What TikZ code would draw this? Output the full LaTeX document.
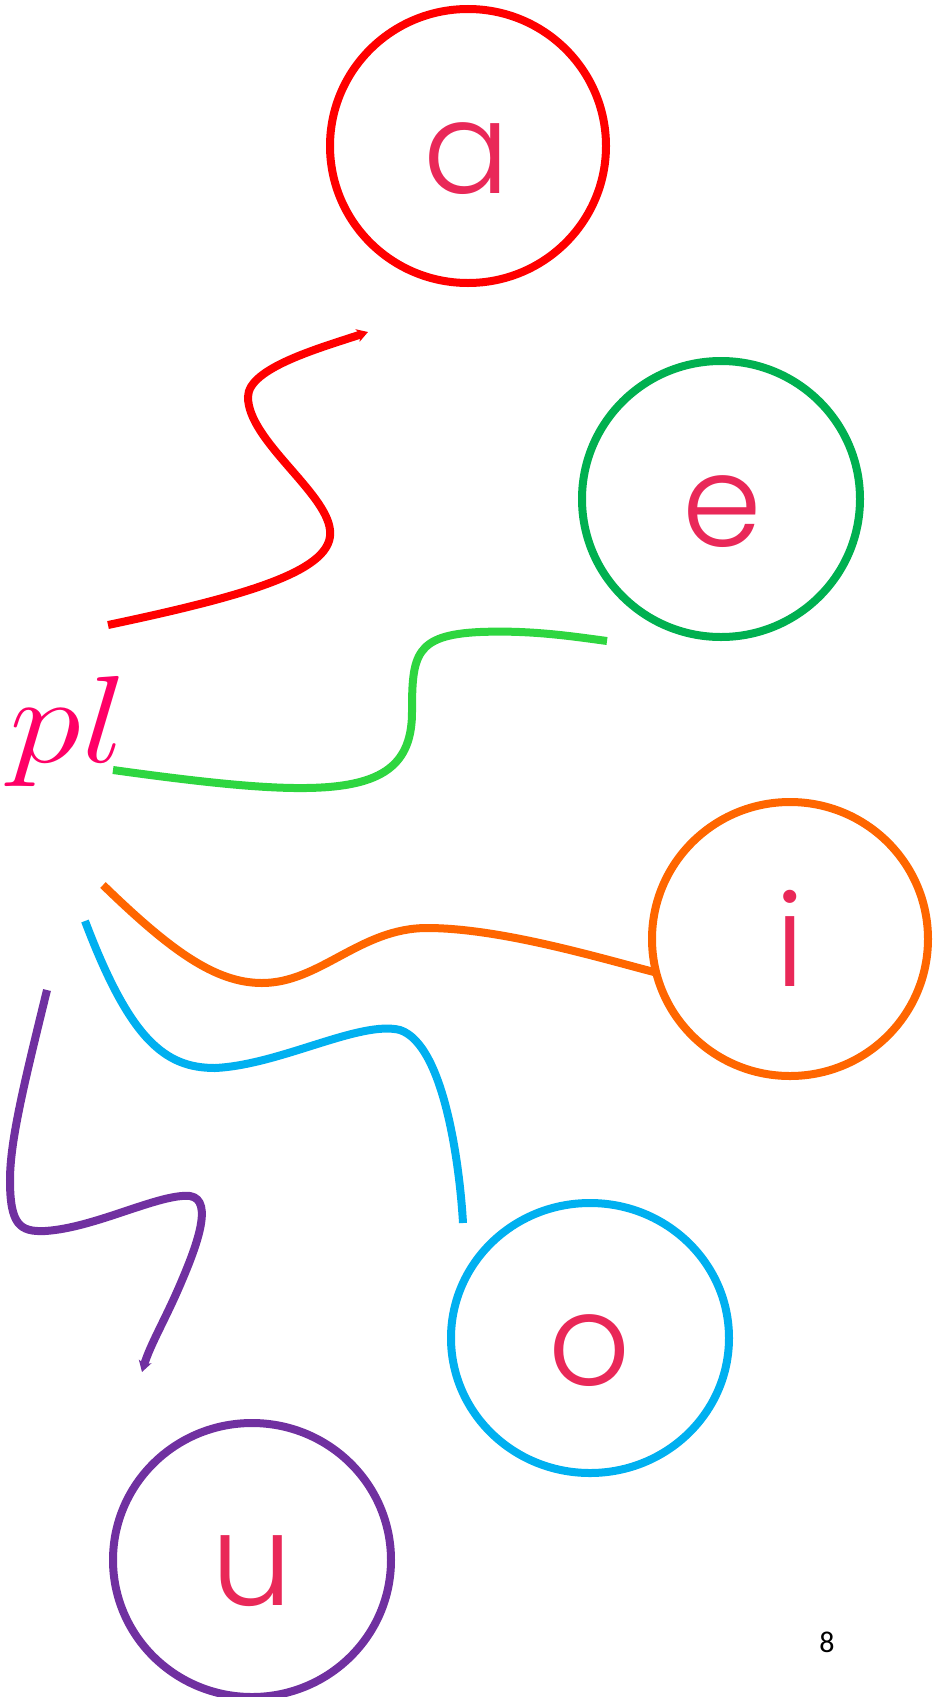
\RequirePackage{fix-cm}
\documentclass[tikz,border=0pt]{standalone}
\usepackage{fontspec}
\usetikzlibrary{arrows.meta}
\newfontfamily\vowelfont{Poppins Light}
\newfontfamily\pagefont{Carlito}
\definecolor{letterc}{RGB}{233,40,88}
\definecolor{plc}{RGB}{255,0,102}
\definecolor{cred}{RGB}{255,0,0}
\definecolor{cgreen}{RGB}{0,176,80}
\definecolor{lgreen}{RGB}{46,214,64}
\definecolor{corange}{RGB}{255,102,0}
\definecolor{cblue}{RGB}{0,176,240}
\definecolor{cpurple}{RGB}{112,48,160}
\tikzset{
  ring/.style={line width=8pt},
  vowel/.style={anchor=base, text=letterc, font=\vowelfont\fontsize{128}{128}\selectfont, inner sep=0pt},
  wire/.style={line width=8pt, line cap=butt},
  tip/.style={-{Stealth[length=11pt,width=13pt,inset=3pt]}}
}
\begin{document}
\begin{tikzpicture}[x=1pt,y=-1pt]
\useasboundingbox (0,0) rectangle (940,1697);
% circles
\draw[cred, ring] (468,146) ellipse [x radius=138, y radius=137];
\draw[cgreen, ring] (721,499) ellipse [x radius=139, y radius=138];
\draw[corange, ring] (790,939) ellipse [x radius=138, y radius=137];
\draw[cblue, ring] (590,1338) ellipse [x radius=139, y radius=135];
\draw[cpurple, ring] (252,1560) ellipse [x radius=139, y radius=137];
% letters
\node[vowel] (la) at (467,193) {a};
\node[vowel] (le) at (722,546) {e};
\node[vowel] (li) at (790,986) {i};
\node[vowel] (lo) at (590,1385) {o};
\node[vowel] (lu) at (252,1605) {u};
% pl
\node[anchor=base west, text=plc, inner sep=0pt, xscale=1.18, transform shape, font=\fontsize{124}{124}\selectfont] (pl) at (9,762) {$pl$};
% page number
\node[anchor=base, inner sep=0pt, font=\pagefont\fontsize{30}{30}\selectfont] (pg) at (827,1652) {8};
% coordinates of curve ends
\coordinate (rs) at (108,625);
\coordinate (re) at (368,332);
\coordinate (gs) at (113,770);
\coordinate (ge) at (607,641);
\coordinate (os) at (103,885);
\coordinate (oe) at (654,972);
\coordinate (bs) at (85,921);
\coordinate (be) at (463,1223);
\coordinate (ps) at (47,990);
\coordinate (pe) at (142,1372);
% red
\draw[wire, cred, tip] (rs) .. controls (250,595) and (335,570) .. (330,530)
  .. controls (326,492) and (248,440) .. (248,397)
  .. controls (248,368) and (320,348) .. (re);
% green
\draw[wire, lgreen] (gs) .. controls (330,800) and (412,800) .. (412,712)
  .. controls (412,655) and (415,635) .. (480,632)
  .. controls (530,630) and (570,636) .. (ge);
% orange
\draw[wire, corange] (os) .. controls (170,950) and (215,983) .. (262,983)
  .. controls (320,983) and (360,928) .. (427,928)
  .. controls (500,928) and (600,958) .. (oe);
% blue
\draw[wire, cblue] (bs) .. controls (130,1040) and (165,1068) .. (215,1068)
  .. controls (280,1065) and (360,1020) .. (400,1030)
  .. controls (445,1045) and (460,1170) .. (be);
% purple
\draw[wire, cpurple, tip] (ps) .. controls (25,1080) and (10,1140) .. (10,1180)
  .. controls (10,1225) and (20,1232) .. (45,1231)
  .. controls (95,1228) and (160,1193) .. (190,1196)
  .. controls (215,1200) and (195,1250) .. (180,1285)
  .. controls (165,1320) and (150,1345) .. (pe);
\end{tikzpicture}
\end{document}
